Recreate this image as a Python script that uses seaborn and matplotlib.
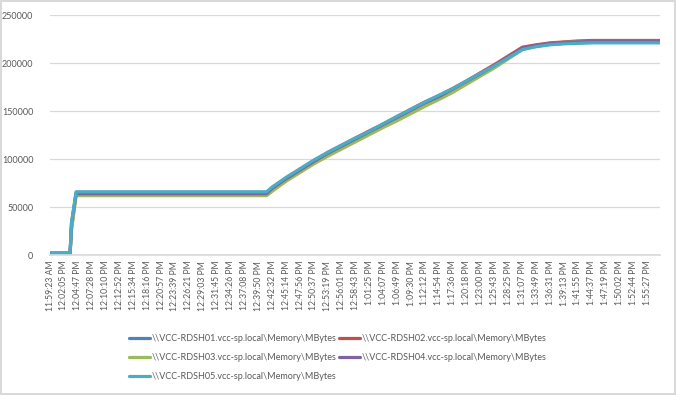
import matplotlib
matplotlib.use("Agg")
import matplotlib.pyplot as plt
import seaborn as sns
import numpy as np
import pandas as pd

# Heures affichées sur l'axe des x (axe de catégories Excel)
tick_labels = [
    "11:59:23 AM", "12:02:05 PM", "12:04:47 PM", "12:07:28 PM", "12:10:10 PM",
    "12:12:52 PM", "12:15:34 PM", "12:18:16 PM", "12:20:57 PM", "12:23:39 PM",
    "12:26:21 PM", "12:29:03 PM", "12:31:45 PM", "12:34:26 PM", "12:37:08 PM",
    "12:39:50 PM", "12:42:32 PM", "12:45:14 PM", "12:47:56 PM", "12:50:37 PM",
    "12:53:19 PM", "12:56:01 PM", "12:58:43 PM", "1:01:25 PM", "1:04:07 PM",
    "1:06:49 PM", "1:09:30 PM", "1:12:12 PM", "1:14:54 PM", "1:17:36 PM",
    "1:20:18 PM", "1:23:00 PM", "1:25:43 PM", "1:28:25 PM", "1:31:07 PM",
    "1:33:49 PM", "1:36:31 PM", "1:39:13 PM", "1:41:55 PM", "1:44:37 PM",
    "1:47:19 PM", "1:50:02 PM", "1:52:44 PM", "1:55:27 PM",
]

# Instants des échantillons
sample_times = [
    "11:59:23 AM", "12:02:05 PM", "12:03:17 PM", "12:03:33 PM", "12:04:27 PM",
    "12:20:57 PM", "12:41:27 PM", "12:42:32 PM", "12:45:14 PM", "12:47:56 PM",
    "12:50:37 PM", "12:53:19 PM", "12:56:01 PM", "12:58:43 PM", "1:01:25 PM",
    "1:04:07 PM", "1:06:49 PM", "1:09:30 PM", "1:12:12 PM", "1:14:54 PM",
    "1:17:36 PM", "1:20:18 PM", "1:23:00 PM", "1:25:43 PM", "1:28:25 PM",
    "1:31:07 PM", "1:33:49 PM", "1:36:31 PM", "1:39:13 PM", "1:41:55 PM",
    "1:44:37 PM", "1:55:27 PM", "1:57:48 PM",
]

rdsh01 = [2000, 2000, 2000, 30000, 65000, 65000, 65000, 70000, 80500, 89000,
          98500, 106500, 114000, 121500, 128500, 136500, 143000, 151000, 159000, 164500,
          172000, 181000, 189500, 197500, 206500, 214500, 217500, 219500, 220500, 221000,
          221500, 221500, 221500]
rdsh02 = [2000, 2000, 2000, 28000, 64000, 64000, 64000, 69500, 80000, 89500,
          98000, 107000, 114500, 122000, 129500, 136500, 144500, 152000, 159500, 166000,
          173500, 181500, 190000, 198500, 207500, 216500, 219000, 221000, 222000, 223000,
          223500, 223500, 223500]
rdsh03 = [2000, 2000, 2000, 26000, 62000, 62000, 62000, 66500, 77000, 86000,
          95000, 103000, 110500, 118000, 125500, 133000, 140000, 147500, 155000, 162000,
          169500, 178000, 186500, 195000, 204500, 214000, 218000, 220000, 221500, 222000,
          222500, 222500, 222500]
rdsh04 = [2000, 2000, 2000, 33000, 64000, 64000, 64000, 69500, 79500, 88500,
          97500, 106000, 113500, 121000, 128500, 136000, 143500, 151000, 158500, 165000,
          173000, 181000, 189000, 197500, 206500, 215500, 218500, 220500, 221500, 222000,
          222500, 222500, 222500]
rdsh05 = [2000, 2000, 2000, 34000, 66000, 66000, 66000, 71000, 81000, 90000,
          99000, 107000, 114500, 122000, 129000, 137000, 144500, 152000, 159500, 166500,
          173500, 181500, 189500, 197000, 205500, 214000, 217000, 219000, 220000, 220500,
          221000, 221000, 221000]

series_names = [
    "\\\\VCC-RDSH01.vcc-sp.local\\Memory\\MBytes",
    "\\\\VCC-RDSH02.vcc-sp.local\\Memory\\MBytes",
    "\\\\VCC-RDSH03.vcc-sp.local\\Memory\\MBytes",
    "\\\\VCC-RDSH04.vcc-sp.local\\Memory\\MBytes",
    "\\\\VCC-RDSH05.vcc-sp.local\\Memory\\MBytes",
]
colors = ["#4F81BD", "#C0504D", "#9BBB59", "#8064A2", "#4BACC6"]


def to_seconds(labels):
    # secondes écoulées depuis le premier relevé
    t = pd.to_datetime(pd.Series(labels), format="%I:%M:%S %p")
    return (t - t.iloc[0]).dt.total_seconds().to_numpy()


sample_sec = to_seconds(sample_times)
tick_sec = to_seconds(tick_labels)

# DataFrame long format pour seaborn
frames = []
for name, vals in zip(series_names, [rdsh01, rdsh02, rdsh03, rdsh04, rdsh05]):
    frames.append(pd.DataFrame({"t": sample_sec, "mbytes": vals, "serie": name}))
df = pd.concat(frames, ignore_index=True)

sns.set_theme(style="white")
plt.rcParams["font.family"] = ["Lato", "DejaVu Sans"]

fig = plt.figure(figsize=(6.76, 3.95), dpi=100)
ax = fig.add_axes([0.074, 0.354, 0.902, 0.608])

sns.lineplot(data=df, x="t", y="mbytes", hue="serie", palette=colors,
             linewidth=2.3, sort=False, ax=ax)

ax.set_xlim(0, sample_sec[-1])
ax.set_ylim(0, 250000)
ax.set_yticks(np.arange(0, 250001, 50000))
ax.set_yticklabels([str(v) for v in range(0, 250001, 50000)], fontsize=6.5, color="#595959")
ax.set_xticks(tick_sec)
ax.set_xticklabels(tick_labels, rotation=90, fontsize=6.2, color="#595959")
ax.tick_params(axis="both", length=0, pad=4)
ax.tick_params(axis="y", pad=12)
ax.set_xlabel("")
ax.set_ylabel("")

# quadrillage horizontal gris clair, façon Excel
ax.yaxis.grid(True, color="#D9D9D9", linewidth=0.9)
ax.xaxis.grid(False)
ax.set_axisbelow(True)
for side in ["top", "right", "left"]:
    ax.spines[side].set_visible(False)
ax.spines["bottom"].set_color("#D9D9D9")

# légende en bas, remplie ligne par ligne comme dans Excel
handles, labels = ax.get_legend_handles_labels()
ax.get_legend().remove()
order = [0, 2, 4, 1, 3]
fig.legend([handles[i] for i in order], [labels[i] for i in order],
           loc="center", bbox_to_anchor=(0.5, 0.094), ncol=2, frameon=False,
           fontsize=6.5, labelcolor="#595959", handlelength=2.3,
           handletextpad=0.2, columnspacing=0.3, labelspacing=1.1)

# bordure du graphique
fig.patch.set_edgecolor("#D9D9D9")
fig.patch.set_linewidth(1.5)

fig.savefig("out.png", dpi=100)
